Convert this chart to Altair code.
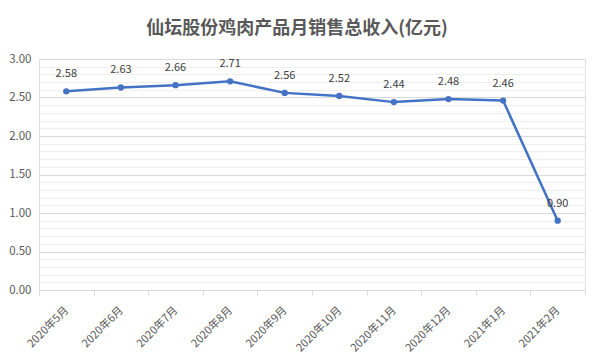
import altair as alt
import pandas as pd

months = ["2020年5月", "2020年6月", "2020年7月", "2020年8月", "2020年9月", "2020年10月",
          "2020年11月", "2020年12月", "2021年1月", "2021年2月"]
revenue = [2.58, 2.63, 2.66, 2.71, 2.56, 2.52, 2.44, 2.48, 2.46, 0.90]
y_ticks = [round(i / 10, 1) for i in range(31)]

df = pd.DataFrame({"month": months, "value": revenue})

FONT = "Noto Sans CJK SC"
major = "abs(datum.value*2 - round(datum.value*2)) < 0.001"

x = alt.X("month:N", sort=months, title=None,
          scale=alt.Scale(paddingInner=0, paddingOuter=0),
          axis=alt.Axis(labelAngle=-45, labelFontSize=11, labelColor="#595959",
                        labelFont=FONT, domainColor="#d9d9d9", tickColor="#d9d9d9",
                        tickSize=5, tickBand="extent", labelPadding=9, labelOffset=-4,
                        grid=False))
y = alt.Y("value:Q", title=None,
          scale=alt.Scale(domain=[0, 3], nice=False, zero=True),
          axis=alt.Axis(values=y_ticks, domain=False, ticks=False,
                        labelExpr=f"{major} ? format(datum.value, '.2f') : ''",
                        labelFontSize=11.5, labelColor="#595959", labelFont=FONT,
                        labelPadding=8,
                        gridColor={"condition": {"test": major, "value": "#d9d9d9"}, "value": "#efefef"},
                        gridWidth=1))

base = alt.Chart(df)
line = base.mark_line(color="#4472C4", strokeWidth=2.5).encode(x=x, y=y)
pts = base.mark_point(filled=True, color="#4472C4", size=40, opacity=1).encode(x=x, y=y)
labels = base.mark_text(dy=-17, fontSize=11, color="#404040", font=FONT).encode(
    x=x, y=y, text=alt.Text("value:Q", format=".2f"))

chart = (line + pts + labels).properties(
    width=546, height=231,
    autosize=alt.AutoSizeParams(type="none"),
    padding={"left": 39, "top": 59, "right": 13, "bottom": 70},
    title=alt.TitleParams("仙坛股份鸡肉产品月销售总收入(亿元)", font=FONT, fontSize=18,
                          fontWeight="bold", color="#595959", anchor="middle",
                          offset=15, dx=-15),
).configure_view(stroke=None).configure(background="white")

chart.save("out.html", embed_options={"renderer": "svg", "actions": False})
